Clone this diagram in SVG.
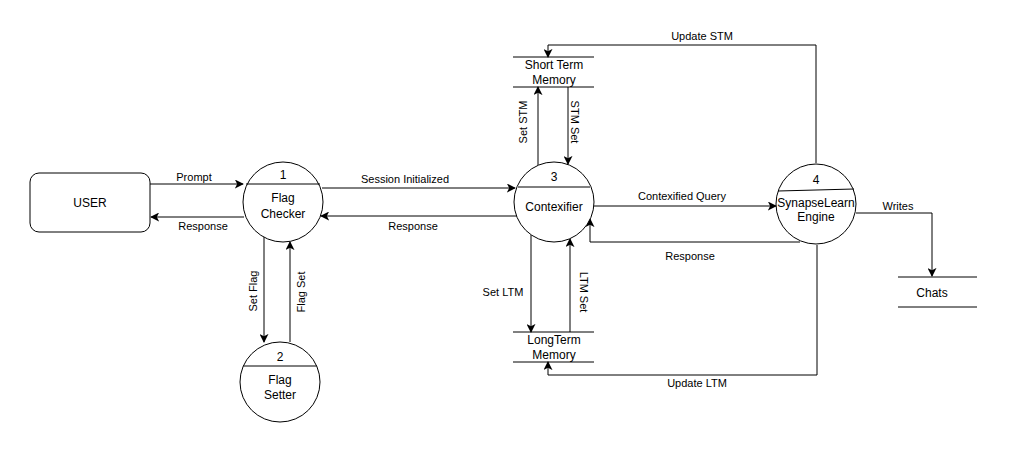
<svg xmlns="http://www.w3.org/2000/svg" width="1009" height="465" viewBox="0 0 1009 465">
<defs>
<marker id="arr" viewBox="0 0 10 10" refX="9" refY="5" markerWidth="9" markerHeight="9" markerUnits="userSpaceOnUse" orient="auto">
<path d="M0,0 L10,5 L0,10 L2.5,5 Z" fill="#000"/>
</marker>
<style>
.n{fill:#fff;stroke:#000;stroke-width:1}
.s{fill:none;stroke:#000;stroke-width:1}
.c{fill:none;stroke:#000;stroke-width:1;marker-end:url(#arr)}
.t{font-family:"Liberation Sans",Arial,sans-serif;font-size:12px;fill:#000;text-anchor:middle}
.l{font-family:"Liberation Sans",Arial,sans-serif;font-size:11px;fill:#000;text-anchor:middle}
</style>
</defs>
<rect width="1009" height="465" fill="#fff"/>
<g id="connectors">
<path class="c" d="M150,184 H243"/>
<text class="l" x="194" y="181">Prompt</text>
<path class="c" d="M244,217 H151"/>
<text class="l" x="203" y="230">Response</text>
<path class="c" d="M322,188 H515"/>
<text class="l" x="405" y="183">Session Initialized</text>
<path class="c" d="M517,216 H321"/>
<text class="l" x="413" y="230">Response</text>
<path class="c" d="M264,237 V342"/>
<text class="l" transform="translate(257,291) rotate(-90)">Set Flag</text>
<path class="c" d="M290,342 V242"/>
<text class="l" transform="translate(305,292) rotate(-90)">Flag Set</text>
<path class="c" d="M538,165 V87"/>
<text class="l" transform="translate(527,122) rotate(-90)">Set STM</text>
<path class="c" d="M568,87 V164"/>
<text class="l" transform="translate(571,122) rotate(90)">STM Set</text>
<path class="c" d="M816,163 V45 H548 V57"/>
<text class="l" x="702" y="40">Update STM</text>
<path class="c" d="M594,206 H776"/>
<text class="l" x="682" y="200">Contexified Query</text>
<path class="c" d="M800,242 H590 V219"/>
<text class="l" x="690" y="260">Response</text>
<path class="c" d="M531,235 V332"/>
<text class="l" x="503" y="296">Set LTM</text>
<path class="c" d="M570,332 V239"/>
<text class="l" transform="translate(580,292) rotate(90)">LTM Set</text>
<path class="c" d="M817,245 V375 H548 V362"/>
<text class="l" x="697" y="387">Update LTM</text>
<path class="c" d="M856,213 H932 V276"/>
<text class="l" x="898" y="210">Writes</text>
</g>
<g id="user">
<rect class="n" x="30" y="173" width="120" height="59" rx="9"/>
<text class="t" x="90" y="207">USER</text>
</g>
<g id="flag-checker">
<circle class="n" cx="283" cy="202" r="40"/>
<line class="s" x1="246" y1="184" x2="320" y2="184"/>
<text class="t" x="283" y="179">1</text>
<text class="t" x="283" y="202">Flag</text>
<text class="t" x="283" y="218">Checker</text>
</g>
<g id="flag-setter">
<circle class="n" cx="280" cy="382" r="40"/>
<line class="s" x1="243" y1="366" x2="317" y2="366"/>
<text class="t" x="280" y="361">2</text>
<text class="t" x="280" y="384">Flag</text>
<text class="t" x="280" y="399">Setter</text>
</g>
<g id="contexifier">
<circle class="n" cx="554" cy="202" r="40"/>
<line class="s" x1="518" y1="187" x2="590" y2="187"/>
<text class="t" x="554" y="181">3</text>
<text class="t" x="554" y="211">Contexifier</text>
</g>
<g id="synapselearn">
<circle class="n" cx="816" cy="204" r="40"/>
<line class="s" x1="778" y1="191" x2="854" y2="189"/>
<text class="t" x="816" y="184">4</text>
<text class="t" x="816" y="207">SynapseLearn</text>
<text class="t" x="816" y="221">Engine</text>
</g>
<g id="stm">
<line class="s" x1="513" y1="57" x2="594" y2="57"/>
<line class="s" x1="513" y1="87" x2="594" y2="87"/>
<text class="t" x="554" y="69">Short Term</text>
<text class="t" x="554" y="84">Memory</text>
</g>
<g id="ltm">
<line class="s" x1="513" y1="332" x2="594" y2="332"/>
<line class="s" x1="513" y1="362" x2="594" y2="362"/>
<text class="t" x="554" y="344">LongTerm</text>
<text class="t" x="554" y="359">Memory</text>
</g>
<g id="chats">
<line class="s" x1="898" y1="277" x2="977" y2="277"/>
<line class="s" x1="898" y1="307" x2="977" y2="307"/>
<text class="t" x="932" y="297">Chats</text>
</g>
</svg>
